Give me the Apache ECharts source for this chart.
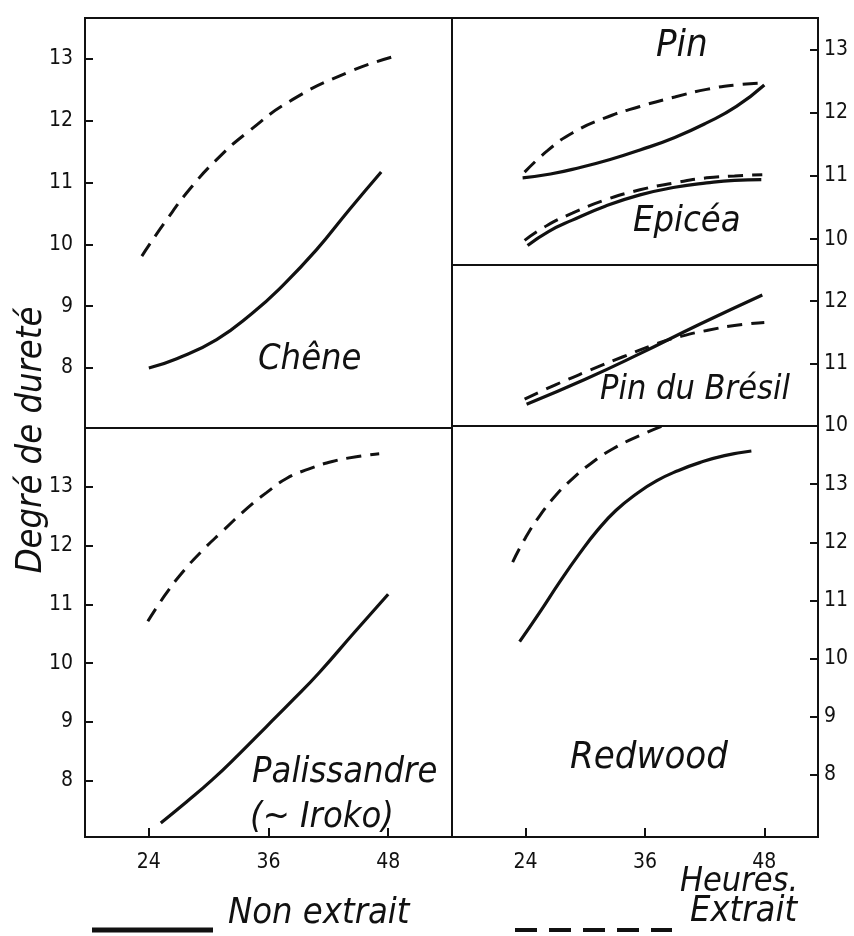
<!DOCTYPE html>
<html><head><meta charset="utf-8">
<script src="https://cdn.jsdelivr.net/npm/echarts@6/dist/echarts.min.js"></script>
<style>html,body{margin:0;padding:0;background:#fff}#c{width:854px;height:936px}</style>
</head><body><div id="c"></div>
<script>
// ---- data (hours, hardness degree) ----
const xTicks = [24, 36, 48];
const yTicksMain = [8, 9, 10, 11, 12, 13];
const yTicksPin = [10, 11, 12, 13];
const yTicksBresil = [10, 11, 12];

const cheneNon = [[24,8.0],[26.8,8.15],[30.8,8.46],[34.4,8.89],[37.4,9.33],[40.8,9.91],[44.1,10.56],[47.3,11.17]];
const cheneExt = [[23.3,9.81],[25.8,10.40],[28.3,10.93],[30.8,11.37],[33.8,11.80],[38.4,12.34],[44.1,12.79],[48.4,13.03]];

const paliNon = [[25.2,7.28],[27.8,7.64],[30.4,8.02],[33.1,8.46],[35.8,8.92],[38.5,9.38],[41.1,9.84],[44.6,10.52],[48.0,11.17]];
const paliExt = [[23.9,10.71],[25.6,11.15],[27.4,11.55],[29.4,11.92],[31.3,12.23],[33.9,12.64],[35.8,12.90],[37.8,13.14],[40.0,13.30],[42.4,13.43],[44.8,13.51],[47.1,13.56]];

const pinNon = [[23.7,10.97],[26.5,11.03],[29.4,11.13],[32.5,11.26],[35.5,11.41],[39.0,11.61],[42.2,11.84],[45.2,12.10],[48.0,12.44]];
const pinExt = [[23.9,11.06],[26.2,11.40],[28.7,11.68],[32.0,11.92],[35.5,12.10],[39.0,12.25],[42.2,12.37],[45.2,12.44],[48.0,12.47]];
const epiceaNon = [[24.2,9.90],[26.3,10.12],[28.7,10.30],[32.0,10.52],[35.5,10.70],[39.0,10.82],[42.2,10.89],[45.0,10.93],[47.7,10.94]];
const epiceaExt = [[23.9,9.98],[26.2,10.22],[28.7,10.41],[32.0,10.62],[35.5,10.78],[39.0,10.89],[42.2,10.97],[45.0,11.00],[47.8,11.02]];

const bresilNon = [[24.1,10.35],[30.0,10.75],[35.5,11.16],[41.5,11.63],[47.8,12.10]];
const bresilExt = [[23.9,10.43],[27.0,10.66],[30.4,10.89],[33.8,11.11],[37.2,11.32],[39.7,11.44],[42.2,11.53],[45.0,11.61],[48.0,11.66]];

const redNon = [[23.4,10.29],[25.4,10.79],[27.4,11.31],[29.4,11.80],[31.2,12.20],[33.1,12.55],[35.2,12.84],[37.2,13.06],[39.3,13.23],[41.5,13.37],[44.0,13.49],[46.7,13.57]];
const redExt = [[22.7,11.66],[24.0,12.08],[25.4,12.45],[27.0,12.80],[28.7,13.09],[30.6,13.36],[32.7,13.60],[35.4,13.83],[38.5,14.05]];

// ---- styling ----
const FONT = "'Liberation Sans Narrow','DejaVu Sans Condensed','Roboto Condensed',Roboto,sans-serif";
const INK = '#111';
const chart = echarts.init(document.getElementById('c'));

const grids = [
  {left:85, top:18, width:367, height:410},
  {left:85, top:428, width:367, height:409},
  {left:452, top:18, width:366, height:247},
  {left:452, top:265, width:366, height:161},
  {left:452, top:426, width:366, height:411}
].map(g => Object.assign(g, {show:true, borderColor:INK, borderWidth:2, backgroundColor:'transparent'}));

function xAx(i, min, max, showLabels){
  return {type:'value', gridIndex:i, min:min, max:max,
    splitLine:{show:false}, axisLine:{show:false},
    axisTick:{show:showLabels, inside:true, length:9, lineStyle:{color:INK,width:2}, customValues:xTicks},
    axisLabel:{show:showLabels, margin:15, color:INK, fontFamily:FONT, fontSize:21, customValues:xTicks}};
}
function yAx(i, min, max, pos, ticks){
  return {type:'value', gridIndex:i, min:min, max:max, position:pos,
    splitLine:{show:false}, axisLine:{show:false},
    axisTick:{show:true, inside:true, length:8, lineStyle:{color:INK,width:2}, customValues:ticks},
    axisLabel:{show:true, margin:pos==='left'?12:6, color:INK, fontFamily:FONT, fontSize:21, customValues:ticks}};
}

const xAxis = [
  xAx(0,17.6,54.4,false), xAx(1,17.6,54.4,true),
  xAx(2,16.6,53.4,false), xAx(3,16.6,53.4,false), xAx(4,16.6,53.4,true)
];
const yAxis = [
  yAx(0,7.03,13.66,'left',yTicksMain),
  yAx(1,7.04,14.0,'left',yTicksMain),
  yAx(2,9.59,13.5,'right',yTicksPin),
  yAx(3,10.0,12.58,'right',yTicksBresil),
  yAx(4,6.93,14.0,'right',yTicksMain)
];

function line(name, data, gi, dashed){
  return {name:name, type:'line', xAxisIndex:gi, yAxisIndex:gi, data:data, smooth:0.5,
    showSymbol:false, symbol:'none', clip:true, silent:true,
    lineStyle:{color:INK, width:dashed?3:3.2, type:dashed?[15,9]:'solid', cap:'butt'}};
}
const series = [
  line('Non extrait', cheneNon, 0, false), line('Extrait', cheneExt, 0, true),
  line('Non extrait', paliNon, 1, false), line('Extrait', paliExt, 1, true),
  line('Non extrait', pinNon, 2, false), line('Extrait', pinExt, 2, true),
  line('Non extrait', epiceaNon, 2, false), line('Extrait', epiceaExt, 2, true),
  line('Non extrait', bresilNon, 3, false), line('Extrait', bresilExt, 3, true),
  line('Non extrait', redNon, 4, false), line('Extrait', redExt, 4, true)
];

function txt(x, y, s, size, align){
  return {type:'text', x:x, y:y, style:{text:s, fill:INK, font:'italic '+size+'px '+FONT, textAlign:align||'left', textVerticalAlign:'middle'}};
}
const graphic = [
  txt(258, 360, 'Chêne', 36),
  txt(656, 46, 'Pin', 38),
  txt(633, 222, 'Epicéa', 36),
  txt(600, 390, 'Pin du Brésil', 34),
  txt(252, 773, 'Palissandre', 36),
  txt(250, 818, '(~ Iroko)', 36),
  txt(570, 758, 'Redwood', 38),
  {type:'text', x:32, y:440, rotation:Math.PI/2,
    style:{text:'Degré de dureté', fill:INK, font:'italic 36px '+FONT, textAlign:'center', textVerticalAlign:'middle'}},
  txt(680, 882, 'Heures.', 34),
  txt(228, 914, 'Non extrait', 36),
  txt(690, 912, 'Extrait', 36),
  {type:'line', shape:{x1:92,y1:930,x2:213,y2:930}, style:{stroke:INK, lineWidth:5}},
  {type:'line', shape:{x1:515,y1:930,x2:672,y2:930}, style:{stroke:INK, lineWidth:4, lineDash:[22,12]}}
];

chart.setOption({animation:false, backgroundColor:'#fff', grid:grids, xAxis:xAxis, yAxis:yAxis, series:series, graphic:graphic});
</script></body></html>
